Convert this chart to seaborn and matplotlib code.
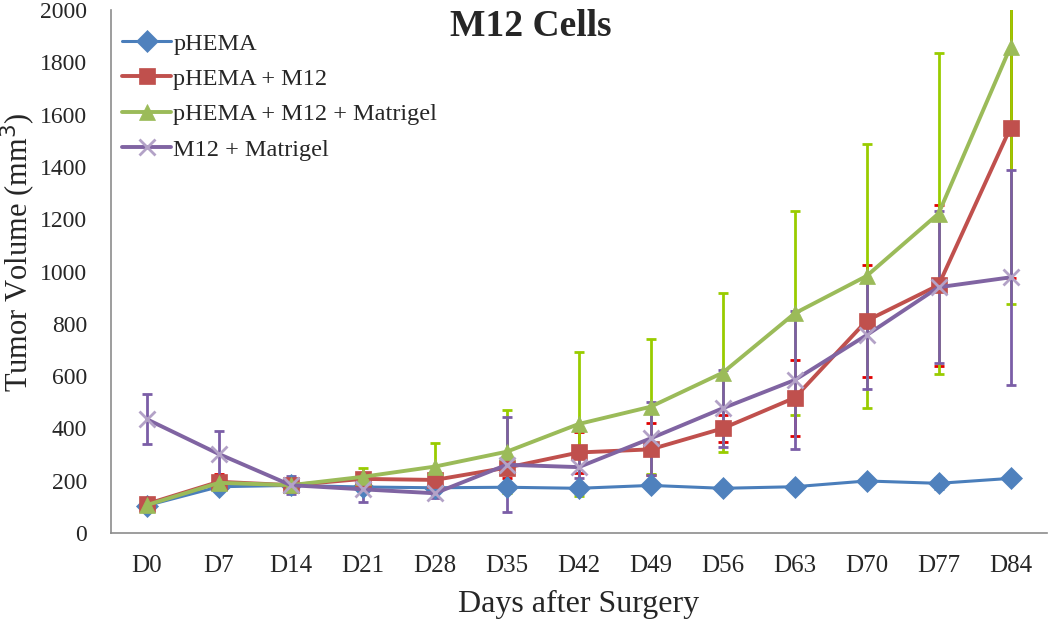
import numpy as np
import pandas as pd
import seaborn as sns
import matplotlib.pyplot as plt
from matplotlib.ticker import FixedLocator, NullFormatter

# Data (tumor volume, mm3)
days = ['D0', 'D7', 'D14', 'D21', 'D28', 'D35', 'D42', 'D49', 'D56', 'D63', 'D70', 'D77', 'D84']

phema = [105, 177, 182, 176, 173, 175, 171, 182, 171, 177, 199, 190, 209]
phema_err = [8, 10, 12, 10, 10, 10, 8, 10, 8, 10, 12, 20, 12]

phema_m12 = [111, 196, 183, 207, 203, 250, 308, 320, 400, 517, 812, 948, 1551]
phema_m12_err = [15, 30, 25, 20, 20, 40, 78, 100, 52, 145, 215, 308, 575]

phema_m12_mat = [107, 192, 183, 215, 254, 311, 417, 483, 613, 840, 983, 1222, 1860]
phema_m12_mat_err = [10, 15, 15, 32, 90, 158, 276, 258, 305, 390, 505, 615, 985]

m12_mat = [435, 302, 183, 167, 152, 261, 252, 362, 477, 585, 757, 940, 978]
m12_mat_err = [95, 90, 35, 50, 20, 182, 40, 140, 147, 265, 205, 290, 410]

series_names = ['pHEMA', 'pHEMA + M12', 'pHEMA + M12 + Matrigel', 'M12 + Matrigel']
series_vals = [phema, phema_m12, phema_m12_mat, m12_mat]
series_errs = [phema_err, phema_m12_err, phema_m12_mat_err, m12_mat_err]

line_colors = ['#4A7EBB', '#C0504D', '#9BBB59', '#8064A2']
marker_colors = ['#4F81BD', '#C0504D', '#9BBB59', '#B3A2C7']
err_colors = ['#4F81BD', '#E00000', '#99CC00', '#7B5EA7']
markers = ['D', 's', '^', 'x']
marker_sizes = [11, 12, 12, 12]
line_widths = [2.2, 2.8, 2.8, 2.8]

x = np.arange(len(days))

sns.set_style('white')
plt.rcParams['font.family'] = ['Liberation Serif', 'DejaVu Serif']

fig = plt.figure(figsize=(10.5, 6.21), dpi=100)
ax = fig.add_axes([0.1057, 0.1417, 0.891, 0.842])

# error bars first, then the lines with markers on top
for vals, errs, ec in zip(series_vals, series_errs, err_colors):
    ax.errorbar(x, vals, yerr=errs, fmt='none', ecolor=ec, elinewidth=2.0,
                capsize=3.5, capthick=2.0, zorder=2)

for name, vals, lc, mc, mk, ms, lw in zip(series_names, series_vals, line_colors,
                                           marker_colors, markers, marker_sizes, line_widths):
    sns.lineplot(x=x, y=vals, ax=ax, color=lc, linewidth=lw, marker=mk, markersize=ms,
                 markerfacecolor=mc, markeredgecolor=mc,
                 markeredgewidth=2.0 if mk == 'x' else 0.5, label=name, zorder=3)

# axes styling in the Excel look
ax.set_xlim(-0.5, len(days) - 0.5)
ax.set_ylim(0, 2000)
ax.set_yticks(np.arange(0, 2001, 200))
ax.xaxis.set_major_locator(FixedLocator(np.arange(-0.5, len(days), 1.0)))
ax.xaxis.set_major_formatter(NullFormatter())
ax.set_xticks(x, minor=True)
ax.set_xticklabels(days, minor=True, fontsize=18)
ax.tick_params(axis='x', which='major', direction='out', length=6, width=1.0, color='#8C8C8C')
ax.tick_params(axis='x', which='minor', length=0, pad=16)
ax.tick_params(axis='y', direction='out', length=7, width=1.0, color='#8C8C8C',
               labelsize=17, pad=10)
for side in ['top', 'right']:
    ax.spines[side].set_visible(False)
for side in ['left', 'bottom']:
    ax.spines[side].set_color('#8C8C8C')
    ax.spines[side].set_linewidth(1.2)

ax.set_xlabel('Days after Surgery', fontsize=23, labelpad=9)
ax.set_ylabel('')
fig.text(18 / 1050, 1 - 252 / 621, 'Tumor Volume (mm$^3$)', fontsize=22, rotation=90,
         ha='center', va='center')

fig.text(0.505, 0.957, 'M12 Cells', fontsize=27, fontweight='bold', ha='center', va='center')

ax.legend(loc='upper left', bbox_to_anchor=(0.012, 0.957), frameon=False, fontsize=17.5,
          handlelength=2.0, handletextpad=0.1, labelspacing=0.55, borderpad=0, borderaxespad=0)

plt.savefig('out.png', dpi=100)
